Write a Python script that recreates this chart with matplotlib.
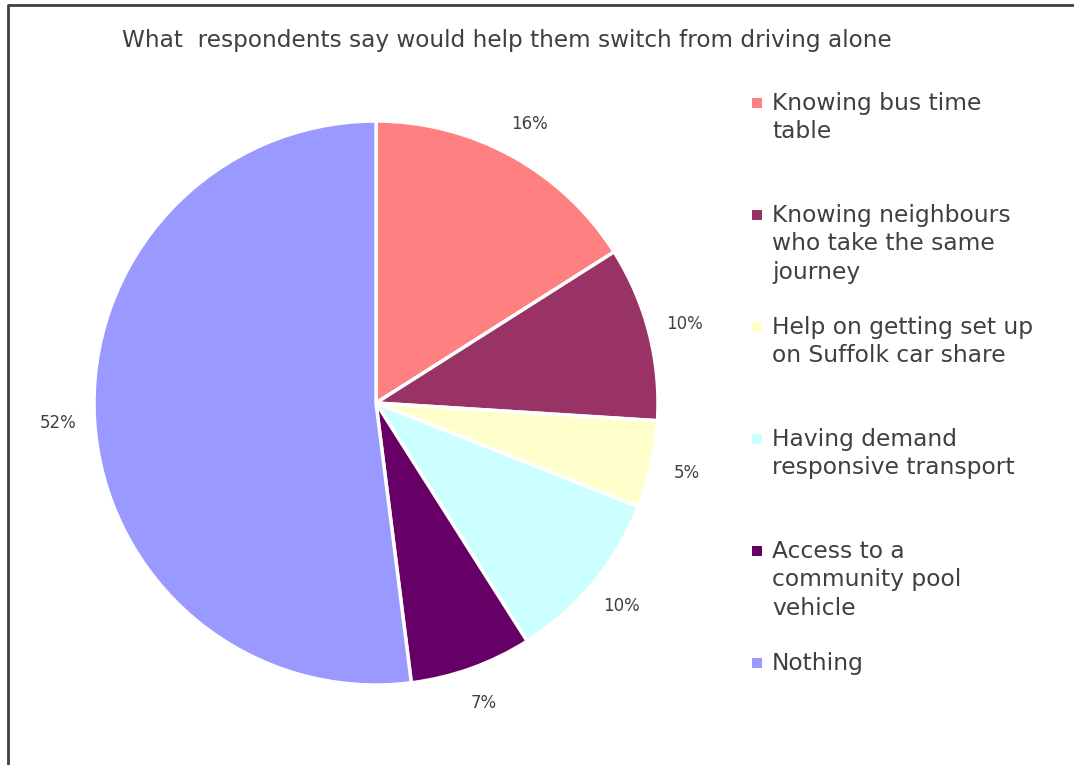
import matplotlib
matplotlib.use("Agg")
import matplotlib.pyplot as plt
from matplotlib.patches import Rectangle
from matplotlib.lines import Line2D

# Survey answers (percent of respondents)
categories = [
    "Knowing bus time\ntable",
    "Knowing neighbours\nwho take the same\njourney",
    "Help on getting set up\non Suffolk car share",
    "Having demand\nresponsive transport",
    "Access to a\ncommunity pool\nvehicle",
    "Nothing",
]
shares = [16, 10, 5, 10, 7, 52]
colours = ["#FF8080", "#993366", "#FFFFCC", "#CCFFFF", "#660066", "#9999FF"]

text_col = "#404040"
plt.rcParams["font.family"] = ["DejaVu Sans"]

W, H = 1074, 765
fig = plt.figure(figsize=(W / 100, H / 100), dpi=100)

# square axes holding the pie, radius 282 px around (376, 403)
cx, cy, r = 376, 403, 282
ax = fig.add_axes([(cx - r) / W, (H - cy - r) / H, 2 * r / W, 2 * r / H])
wedges, _, autotexts = ax.pie(
    shares, colors=colours, startangle=90, counterclock=False,
    autopct="%1.0f%%", pctdistance=1.13, radius=1,
    wedgeprops=dict(edgecolor="white", linewidth=2.5),
    textprops=dict(color=text_col, fontsize=12),
)
ax.set_xlim(-1, 1)
ax.set_ylim(-1, 1)
ax.set_aspect("equal")
ax.axis("off")

fig.text(122 / W, 1 - 40 / H, "What  respondents say would help them switch from driving alone",
         fontsize=16.7, color=text_col, ha="left", va="center")

# legend column, entries spaced evenly
for i, (lab, col) in enumerate(zip(categories, colours)):
    y = 103 + i * 112
    fig.patches.append(Rectangle(((757 - 5) / W, 1 - (y + 5) / H), 10 / W, 10 / H,
                                 transform=fig.transFigure, facecolor=col, edgecolor="none"))
    fig.text(772 / W, 1 - (y - 11) / H, lab, fontsize=16.8, color=text_col,
             ha="left", va="top", linespacing=1.3)

# chart frame
fig.add_artist(Line2D([8 / W, 8 / W, 1], [0, 1 - 5 / H, 1 - 5 / H],
                      transform=fig.transFigure, color="#404040", linewidth=2))

fig.savefig("out.png", dpi=100)
